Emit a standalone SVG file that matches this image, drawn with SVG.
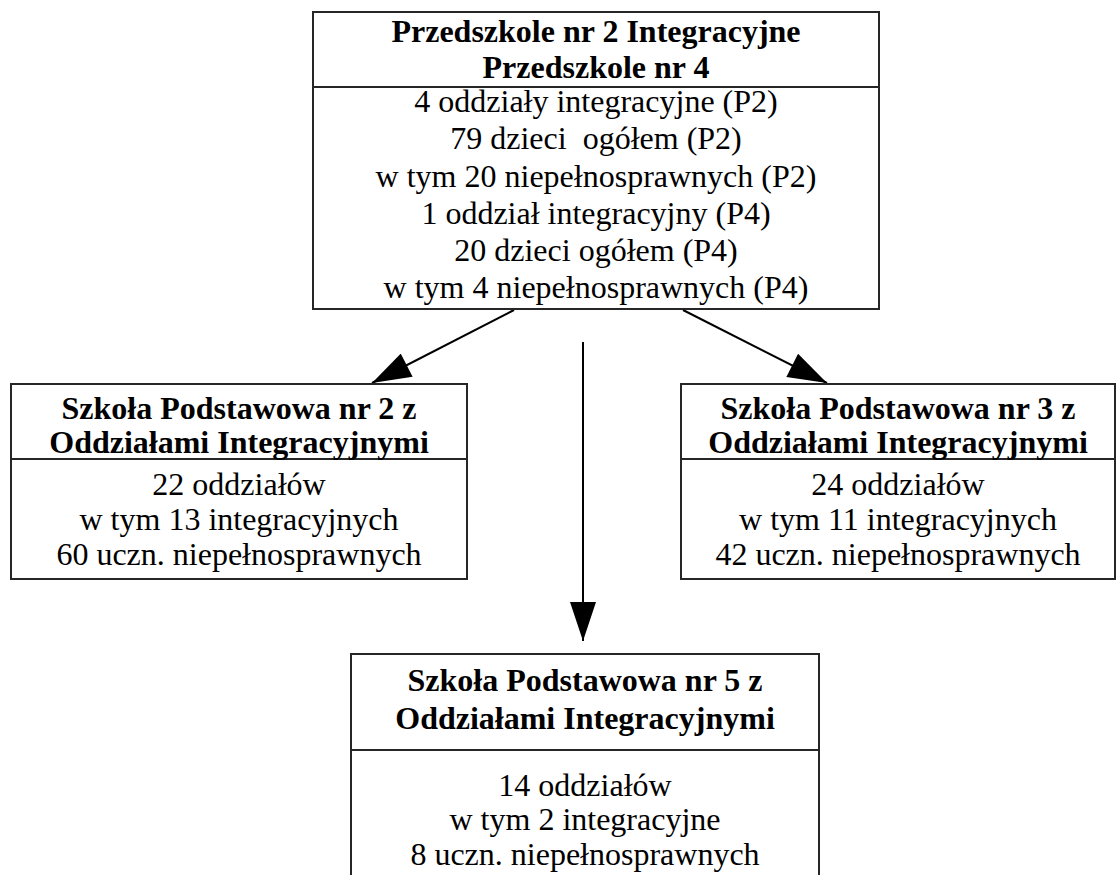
<svg xmlns="http://www.w3.org/2000/svg" width="1117" height="875" viewBox="0 0 1117 875">
<defs>
<style>
.box{fill:#ffffff;stroke:#262626;stroke-width:2}
.div{stroke:#262626;stroke-width:2}
.h{font-family:"Liberation Serif","Times New Roman",serif;font-size:32px;font-weight:bold;fill:#000;text-anchor:middle}
.t{font-family:"Liberation Serif","Times New Roman",serif;font-size:32px;fill:#000;text-anchor:middle}
.edge{stroke:#000;stroke-width:2;fill:none;marker-end:url(#arr)}
</style>
<marker id="arr" markerUnits="userSpaceOnUse" markerWidth="40" markerHeight="26" viewBox="0 0 39 26" refX="39" refY="13" orient="auto">
<path d="M0,0 L39,13 L0,26 z" fill="#000"/>
</marker>
</defs>
<rect width="1117" height="875" fill="#ffffff"/>
<g id="connectors">
<line class="edge" x1="514" y1="310" x2="372" y2="383"/>
<line class="edge" x1="683" y1="310" x2="827" y2="383"/>
<line class="edge" x1="583" y1="342" x2="583" y2="641"/>
</g>
<g id="przedszkole">
<rect class="box" x="313" y="12" width="566" height="297"/>
<line class="div" x1="313" y1="87" x2="879" y2="87"/>
<text class="h" x="596" y="42">Przedszkole nr 2 Integracyjne</text>
<text class="h" x="596" y="78">Przedszkole nr 4</text>
<text class="t" x="596" y="112">4 oddziały integracyjne (P2)</text>
<text class="t" x="596" y="149" xml:space="preserve">79 dzieci  ogółem (P2)</text>
<text class="t" x="596" y="187">w tym 20 niepełnosprawnych (P2)</text>
<text class="t" x="596" y="224">1 oddział integracyjny (P4)</text>
<text class="t" x="596" y="261">20 dzieci ogółem (P4)</text>
<text class="t" x="596" y="298">w tym 4 niepełnosprawnych (P4)</text>
</g>
<g id="sp2">
<rect class="box" x="11" y="384" width="456" height="195"/>
<line class="div" x1="11" y1="459" x2="467" y2="459"/>
<text class="h" x="239" y="419">Szkoła Podstawowa nr 2 z</text>
<text class="h" x="239" y="453">Oddziałami Integracyjnymi</text>
<text class="t" x="239" y="495">22 oddziałów</text>
<text class="t" x="239" y="530">w tym 13 integracyjnych</text>
<text class="t" x="239" y="565">60 uczn. niepełnosprawnych</text>
</g>
<g id="sp3">
<rect class="box" x="681" y="384" width="434" height="195"/>
<line class="div" x1="681" y1="459" x2="1115" y2="459"/>
<text class="h" x="898" y="419">Szkoła Podstawowa nr 3 z</text>
<text class="h" x="898" y="453">Oddziałami Integracyjnymi</text>
<text class="t" x="898" y="495">24 oddziałów</text>
<text class="t" x="898" y="530">w tym 11 integracyjnych</text>
<text class="t" x="898" y="565">42 uczn. niepełnosprawnych</text>
</g>
<g id="sp5">
<rect class="box" x="351" y="654" width="468" height="240"/>
<line class="div" x1="351" y1="750" x2="819" y2="750"/>
<text class="h" x="585" y="691">Szkoła Podstawowa nr 5 z</text>
<text class="h" x="585" y="729">Oddziałami Integracyjnymi</text>
<text class="t" x="585" y="796">14 oddziałów</text>
<text class="t" x="585" y="830">w tym 2 integracyjne</text>
<text class="t" x="585" y="865">8 uczn. niepełnosprawnych</text>
</g>
</svg>
